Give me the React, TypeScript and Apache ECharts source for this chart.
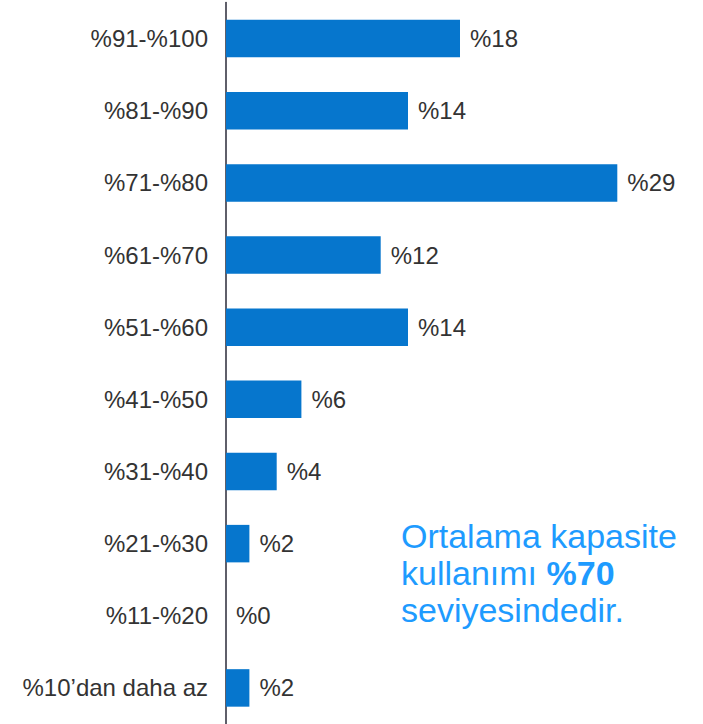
import React, { useEffect, useRef } from "react";
import * as echarts from "echarts";

const categories = [
  "%91-%100",
  "%81-%90",
  "%71-%80",
  "%61-%70",
  "%51-%60",
  "%41-%50",
  "%31-%40",
  "%21-%30",
  "%11-%20",
  "%10’dan daha az",
];
// bar lengths as drawn in the picture
const values = [18, 14, 30.1, 11.9, 14, 5.8, 3.9, 1.8, 0, 1.8];
// printed value labels
const valueLabels = ["%18", "%14", "%29", "%12", "%14", "%6", "%4", "%2", "%0", "%2"];

const FONT = "'Liberation Sans', Arial, Helvetica, sans-serif";

export default function App() {
  const ref = useRef<HTMLDivElement>(null);
  useEffect(() => {
    if (!ref.current) return;
    const chart = echarts.init(ref.current, undefined, { renderer: "svg" });
    chart.setOption({
      animation: false,
      backgroundColor: "#ffffff",
      grid: { left: 226, right: 9, top: 2.5, height: 725, containLabel: false },
      xAxis: {
        type: "value",
        min: 0,
        max: 36,
        show: false,
      },
      yAxis: {
        type: "category",
        data: categories,
        inverse: true,
        offset: 2,
        axisLine: { show: true, lineStyle: { color: "#2a2a38", width: 1.5 } },
        axisTick: { show: false },
        axisLabel: {
          margin: 16,
          color: "#333333",
          fontSize: 24,
          fontFamily: FONT,
        },
        splitLine: { show: false },
      },
      series: [
        {
          type: "bar",
          data: values,
          barWidth: 37.5,
          itemStyle: { color: "#0676cd" },
          label: {
            show: true,
            position: "right",
            distance: 10,
            color: "#333333",
            fontSize: 24,
            fontFamily: FONT,
            formatter: (p: any) => valueLabels[p.dataIndex],
          },
        },
      ],
      graphic: [
        {
          type: "text",
          left: 401,
          top: 519,
          style: {
            text: "{a|Ortalama kapasite}\n{a|kullanımı }{b|%70}\n{a|seviyesindedir.}",
            fill: "#1e9bff",
            rich: {
              a: {
                fontSize: 34,
                lineHeight: 37,
                fontFamily: FONT,
                fill: "#1e9bff",
              },
              b: {
                fontSize: 34,
                lineHeight: 37,
                fontWeight: "bold",
                fontFamily: FONT,
                fill: "#1e9bff",
              },
            },
          },
        },
      ],
    });
    return () => chart.dispose();
  }, []);
  return (
    <div
      ref={ref}
      style={{ position: "absolute", left: 0, top: 0, width: 703, height: 724 }}
    />
  );
}
